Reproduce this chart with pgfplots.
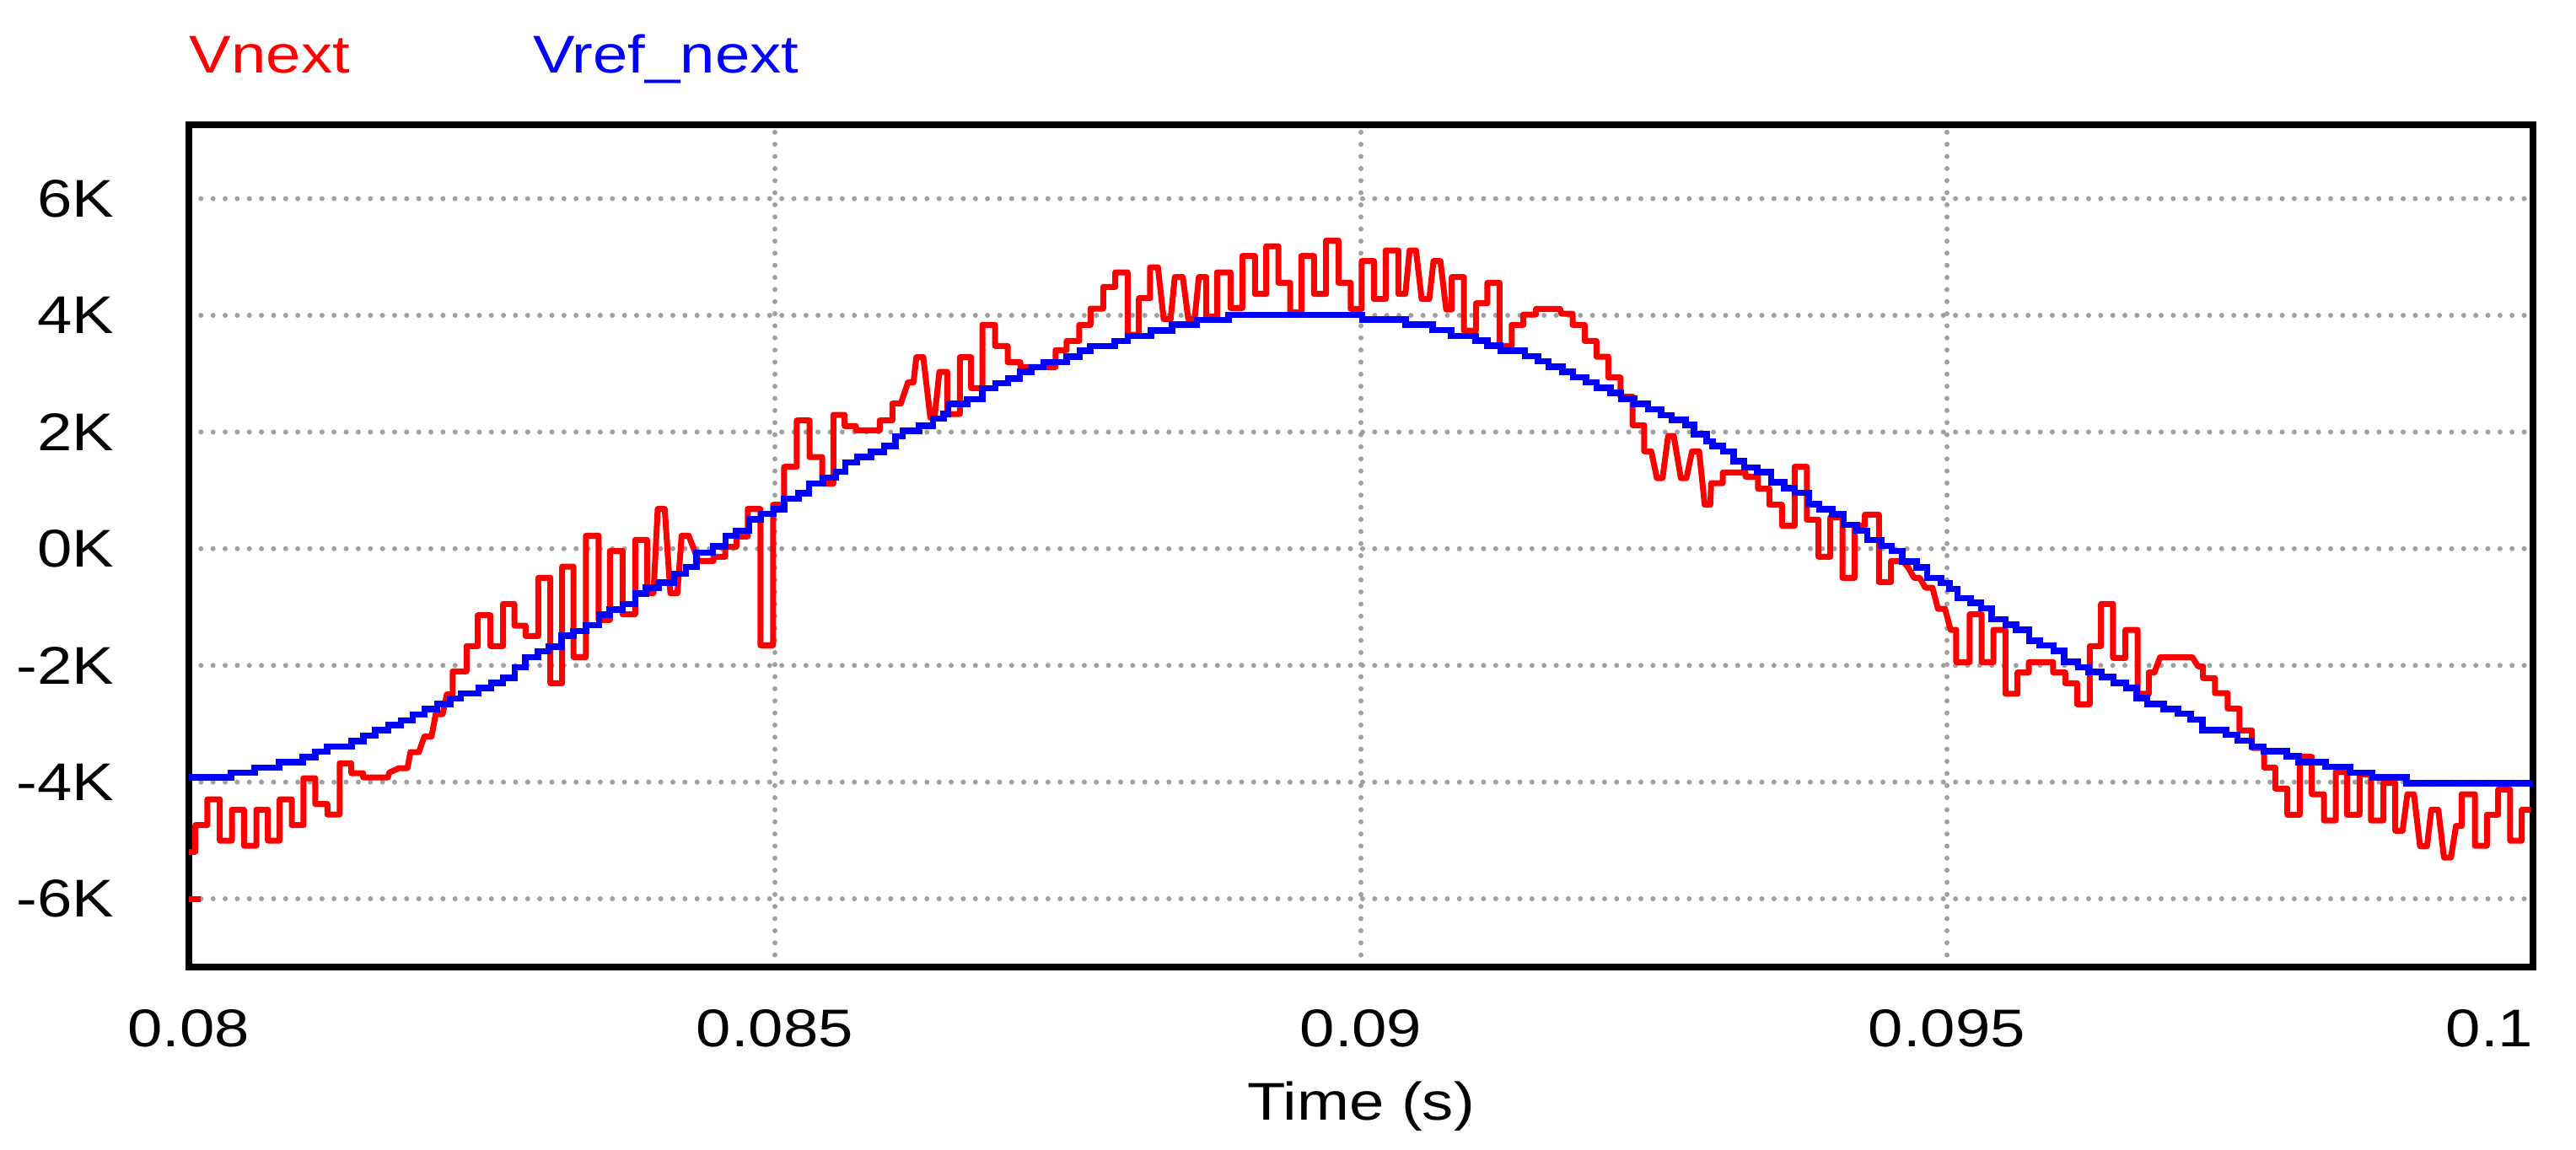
\documentclass[border=0pt]{standalone}
\usepackage{fontspec}
\setmainfont{Liberation Sans}[FakeStretch=1.18]
\usepackage{pgfplots}
\usepackage{pgfplotstable}
\pgfplotsset{compat=1.18}
\definecolor{gridgray}{RGB}{160,160,160}
\definecolor{psimred}{RGB}{255,0,0}
\definecolor{psimblue}{RGB}{0,0,255}
\newcommand{\lbl}{\fontsize{12.6}{15}\selectfont}

% Vref_next (stepped reference)
\pgfplotstableread{
t v
0.08000 -3920
0.08036 -3840
0.08056 -3750
0.08077 -3660
0.08097 -3570
0.08108 -3480
0.08118 -3390
0.08139 -3300
0.08149 -3200
0.08159 -3110
0.08170 -3020
0.08181 -2940
0.08191 -2840
0.08201 -2750
0.08212 -2660
0.08223 -2570
0.08232 -2480
0.08247 -2390
0.08258 -2300
0.08268 -2210
0.08278 -2030
0.08287 -1860
0.08298 -1760
0.08307 -1680
0.08318 -1490
0.08328 -1410
0.08339 -1310
0.08350 -1130
0.08359 -1040
0.08370 -950
0.08381 -770
0.08390 -670
0.08401 -580
0.08414 -430
0.08424 -310
0.08433 -70
0.08447 40
0.08458 220
0.08467 310
0.08478 500
0.08488 600
0.08499 680
0.08508 860
0.08520 950
0.08529 1120
0.08541 1220
0.08552 1320
0.08560 1480
0.08570 1570
0.08582 1660
0.08593 1760
0.08603 1930
0.08609 2020
0.08623 2110
0.08635 2230
0.08644 2310
0.08648 2480
0.08664 2560
0.08677 2750
0.08688 2840
0.08699 2920
0.08709 3030
0.08719 3110
0.08729 3200
0.08749 3290
0.08760 3390
0.08769 3475
0.08790 3560
0.08801 3650
0.08821 3740
0.08839 3840
0.08860 3920
0.08887 4010
0.09001 3930
0.09038 3840
0.09061 3750
0.09077 3650
0.09098 3570
0.09108 3480
0.09119 3390
0.09140 3300
0.09151 3210
0.09160 3120
0.09172 3030
0.09181 2940
0.09192 2850
0.09201 2760
0.09213 2670
0.09222 2570
0.09233 2480
0.09245 2390
0.09256 2290
0.09265 2210
0.09277 2120
0.09284 1960
0.09295 1840
0.09300 1760
0.09309 1670
0.09318 1500
0.09327 1390
0.09338 1310
0.09350 1140
0.09361 1040
0.09370 960
0.09382 760
0.09391 680
0.09402 590
0.09412 410
0.09423 310
0.09432 150
0.09444 50
0.09453 -40
0.09462 -220
0.09474 -320
0.09483 -500
0.09495 -590
0.09502 -690
0.09509 -850
0.09520 -930
0.09529 -1020
0.09538 -1210
0.09550 -1300
0.09559 -1390
0.09570 -1580
0.09579 -1660
0.09591 -1750
0.09600 -1940
0.09612 -2030
0.09621 -2110
0.09632 -2200
0.09642 -2300
0.09653 -2390
0.09662 -2560
0.09671 -2660
0.09685 -2750
0.09697 -2830
0.09708 -2930
0.09718 -3110
0.09738 -3190
0.09748 -3290
0.09760 -3390
0.09770 -3470
0.09790 -3560
0.09800 -3660
0.09823 -3740
0.09844 -3840
0.09863 -3920
0.09892 -4020
0.10000 -4020
}\vref

% Vnext (measured)
\pgfplotstableread{
t v
0.080000 -5195
0.080055 -5195
0.080055 -4737
0.080158 -4737
0.080158 -4295
0.080264 -4295
0.080264 -5003
0.080367 -5003
0.080367 -4473
0.080470 -4473
0.080470 -5090
0.080576 -5090
0.080576 -4473
0.080674 -4473
0.080674 -5003
0.080775 -5003
0.080775 -4295
0.080878 -4295
0.080878 -4737
0.080978 -4737
0.080978 -3934
0.081079 -3934
0.081079 -4376
0.081182 -4376
0.081182 -4555
0.081286 -4555
0.081286 -3678
0.081386 -3678
0.081386 -3847
0.081487 -3847
0.081487 -3919
0.081698 -3919
0.081710 -3837
0.081794 -3760
0.081865 -3760
0.081890 -3486
0.081962 -3486
0.082009 -3220
0.082070 -3220
0.082106 -2835
0.082165 -2835
0.082201 -2497
0.082250 -2497
0.082250 -2103
0.082369 -2103
0.082369 -1669
0.082465 -1669
0.082465 -1139
0.082573 -1139
0.082573 -1669
0.082681 -1669
0.082681 -947
0.082777 -947
0.082777 -1318
0.082873 -1318
0.082873 -1496
0.082981 -1496
0.082981 -499
0.083084 -499
0.083084 -2305
0.083185 -2305
0.083185 -306
0.083281 -306
0.083281 -1857
0.083388 -1857
0.083388 224
0.083496 224
0.083496 -1221
0.083592 -1221
0.083592 -40
0.083700 -40
0.083700 -1124
0.083808 -1124
0.083808 152
0.083909 152
0.083909 -763
0.083964 -763
0.084000 682
0.084060 682
0.084108 -763
0.084168 -763
0.084204 224
0.084264 224
0.084348 -210
0.084475 -210
0.084475 -137
0.084576 -137
0.084576 32
0.084671 32
0.084671 210
0.084768 210
0.084768 682
0.084876 682
0.084876 -1655
0.084984 -1655
0.084984 754
0.085079 754
0.085079 1405
0.085187 1405
0.085187 2199
0.085295 2199
0.085295 1572
0.085403 1572
0.085403 1116
0.085499 1116
0.085499 2295
0.085595 2295
0.085595 2103
0.085691 2103
0.085691 2030
0.085894 2030
0.085894 2199
0.086002 2199
0.086002 2488
0.086074 2488
0.086135 2850
0.086182 2850
0.086207 3283
0.086266 3283
0.086326 2247
0.086362 2247
0.086403 3032
0.086470 3032
0.086470 2309
0.086578 2309
0.086578 3283
0.086674 3283
0.086674 2753
0.086770 2753
0.086770 3837
0.086878 3837
0.086878 3475
0.086986 3475
0.086986 3197
0.087094 3197
0.087094 3114
0.087394 3114
0.087394 3403
0.087489 3403
0.087489 3562
0.087597 3562
0.087597 3837
0.087693 3837
0.087693 4116
0.087801 4116
0.087801 4487
0.087904 4487
0.087904 4737
0.088009 4737
0.088009 3668
0.088106 3668
0.088106 4295
0.088201 4295
0.088201 4824
0.088268 4824
0.088317 3934
0.088376 3934
0.088412 4656
0.088480 4656
0.088527 3934
0.088581 3934
0.088617 4656
0.088681 4656
0.088681 3981
0.088772 3981
0.088772 4737
0.088887 4737
0.088887 4126
0.088988 4126
0.088988 5017
0.089096 5017
0.089096 4367
0.089192 4367
0.089192 5185
0.089295 5185
0.089295 4559
0.089396 4559
0.089396 4054
0.089491 4054
0.089491 5017
0.089599 5017
0.089599 4367
0.089703 4367
0.089703 5282
0.089808 5282
0.089808 4559
0.089912 4559
0.089912 4111
0.090007 4111
0.090007 4931
0.090110 4931
0.090110 4280
0.090211 4280
0.090211 5113
0.090319 5113
0.090319 4367
0.090379 4367
0.090415 5113
0.090470 5113
0.090518 4280
0.090583 4280
0.090619 4931
0.090678 4931
0.090727 4101
0.090775 4101
0.090775 4656
0.090878 4656
0.090878 3740
0.090983 3740
0.090983 4208
0.091079 4208
0.091079 4559
0.091182 4559
0.091182 3475
0.091286 3475
0.091286 3837
0.091386 3837
0.091386 4014
0.091494 4014
0.091494 4111
0.091698 4111
0.091710 4029
0.091806 4029
0.091806 3837
0.091909 3837
0.091909 3562
0.092009 3562
0.092009 3292
0.092110 3292
0.092110 2936
0.092214 2936
0.092214 2608
0.092317 2608
0.092317 2117
0.092417 2117
0.092417 1669
0.092477 1669
0.092525 1211
0.092573 1211
0.092621 1934
0.092669 1934
0.092729 1211
0.092777 1211
0.092825 1669
0.092885 1669
0.092933 754
0.092981 754
0.092988 1124
0.093088 1124
0.093088 1308
0.093281 1308
0.093281 1236
0.093388 1236
0.093388 1029
0.093484 1029
0.093484 754
0.093592 754
0.093592 393
0.093700 393
0.093700 1405
0.093804 1405
0.093804 499
0.093904 499
0.093904 -137
0.094005 -137
0.094005 538
0.094108 538
0.094108 -499
0.094211 -499
0.094211 393
0.094300 393
0.094300 585
0.094419 585
0.094419 -571
0.094523 -571
0.094523 -210
0.094624 -210
0.094671 -329
0.094719 -499
0.094768 -499
0.094815 -668
0.094876 -668
0.094923 -1029
0.094983 -1029
0.095031 -1390
0.095079 -1390
0.095079 -1944
0.095194 -1944
0.095194 -1124
0.095295 -1124
0.095295 -1944
0.095396 -1944
0.095396 -1390
0.095499 -1390
0.095499 -2488
0.095602 -2488
0.095602 -2121
0.095698 -2121
0.095698 -1944
0.095906 -1944
0.095906 -2121
0.096009 -2121
0.096009 -2305
0.096110 -2305
0.096110 -2666
0.096218 -2666
0.096218 -1669
0.096314 -1669
0.096314 -947
0.096417 -947
0.096417 -1871
0.096523 -1871
0.096523 -1390
0.096626 -1390
0.096626 -2488
0.096722 -2488
0.096722 -2121
0.096770 -2121
0.096818 -1861
0.097094 -1861
0.097142 -2016
0.097185 -2016
0.097185 -2218
0.097286 -2218
0.097286 -2474
0.097394 -2474
0.097394 -2738
0.097496 -2738
0.097496 -3114
0.097602 -3114
0.097602 -3413
0.097705 -3413
0.097705 -3750
0.097801 -3750
0.097801 -4111
0.097904 -4111
0.097904 -4559
0.098009 -4559
0.098009 -3567
0.098113 -3567
0.098113 -4208
0.098216 -4208
0.098216 -4656
0.098317 -4656
0.098317 -3822
0.098412 -3822
0.098412 -4559
0.098520 -4559
0.098520 -3870
0.098617 -3870
0.098617 -4656
0.098724 -4656
0.098724 -4014
0.098825 -4014
0.098825 -4834
0.098887 -4834
0.098928 -4208
0.098984 -4208
0.099036 -5098
0.099096 -5098
0.099132 -4473
0.099192 -4473
0.099240 -5292
0.099300 -5292
0.099343 -4751
0.099391 -4751
0.099391 -4208
0.099504 -4208
0.099504 -5090
0.099607 -5090
0.099607 -4559
0.099703 -4559
0.099703 -4126
0.099804 -4126
0.099804 -5003
0.099904 -5003
0.099904 -4473
0.099983 -4473
}\vnext

\begin{document}
\begin{tikzpicture}
\useasboundingbox (0,0) rectangle (611pt,272.8pt);
\begin{axis}[
  name=ax,
  at={(44.8pt,43.4pt)}, anchor=south west,
  scale only axis, width=556pt, height=199.8pt,
  xmin=0.08, xmax=0.1, ymin=-7170, ymax=7266,
  xtick={0.08,0.085,0.09,0.095,0.1},
  xticklabels={0.08,0.085,0.09,0.095,\llap{0.1}},
  ytick={-6000,-4000,-2000,0,2000,4000,6000},
  yticklabels={-6K,-4K,-2K,0K,2K,4K,6K},
  scaled x ticks=false, scaled y ticks=false,
  major tick length=0pt,
  grid=major,
  major grid style={gridgray, line width=1.2pt, dash pattern=on 0pt off 2.87pt, line cap=round},
  axis line style={line width=1.6pt},
  tick label style={font=\lbl, inner sep=0pt},
  xticklabel style={anchor=base, yshift=-19pt},
  yticklabel style={anchor=east, xshift=-17.6pt},
  xlabel={Time (s)},
  xlabel style={at={(axis description cs:0.5,0)}, anchor=base, inner sep=0pt, yshift=-36.3pt, font=\lbl},
]
\addplot[psimred, line width=1.4pt, line join=round] table[x=t, y=v] {\vnext};
\addplot[psimred, line width=1.4pt] coordinates {(0.08,-6000) (0.0801,-6000)};
\addplot[psimblue, line width=1.5pt, const plot] table[x=t, y=v] {\vref};
\end{axis}
\node[anchor=base west, inner sep=0pt, text=psimred, font=\lbl] at ([yshift=12.3pt]ax.north west) {Vnext};
\node[anchor=base west, inner sep=0pt, text=psimblue, font=\lbl] at ([xshift=81.4pt, yshift=12.3pt]ax.north west) {Vref\_next};
\end{tikzpicture}
\end{document}
